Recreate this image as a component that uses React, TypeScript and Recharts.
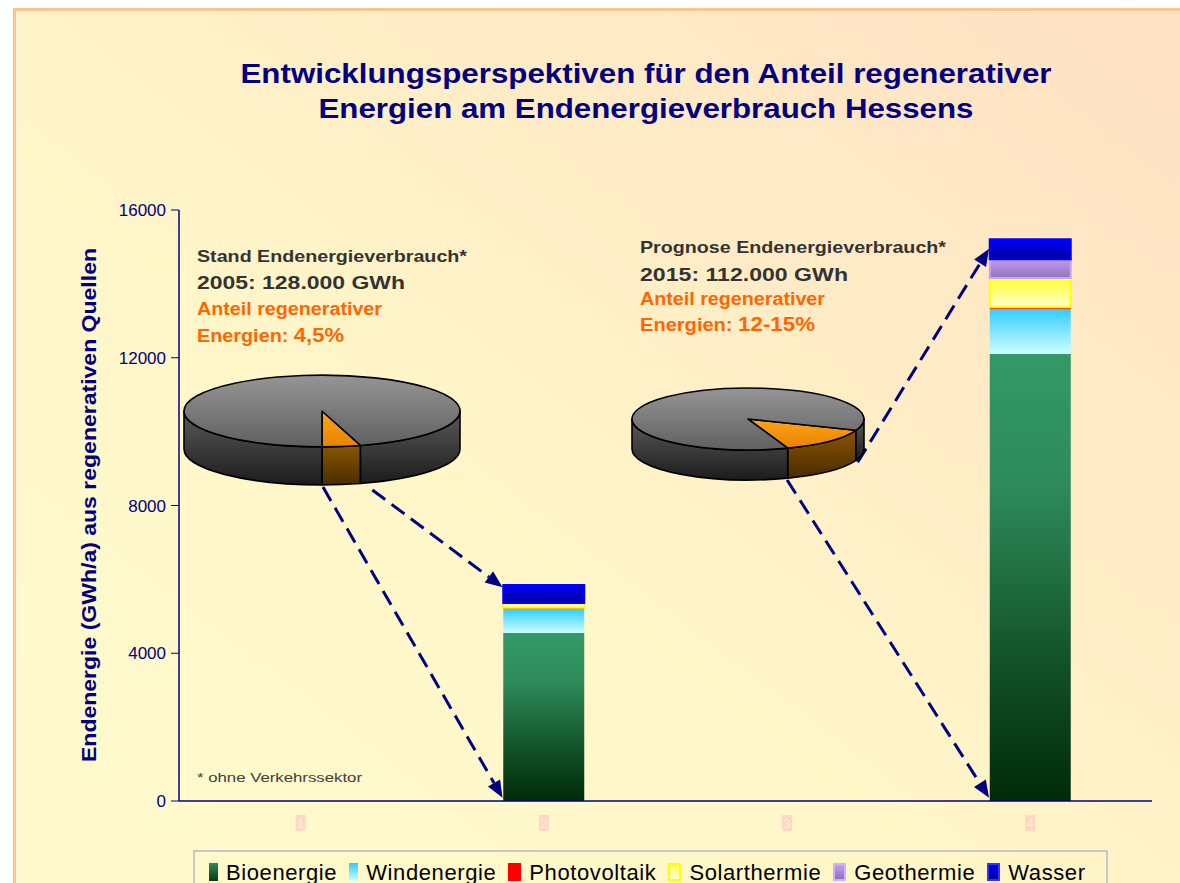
import React from 'react';
import { ComposedChart, Bar, XAxis, YAxis, ReferenceLine, Legend, PieChart, Pie } from 'recharts';

const FONT = '"Liberation Sans", Arial, Helvetica, sans-serif';
const NAVY = '#000080';

// x categories (the original chart shows them faintly as 1..4)
const categories = ['1', '2', '3', '4'];
// centre of each category on a 0..4 scale (used by the hidden numeric axis)
const catPos = [0.5, 1.5, 2.5, 3.5];

// GWh/a per source, bars only at 2 (2005) and 4 (2015)
const bioenergie = [null, 4550, null, 12100];
const windenergie = [null, 650, null, 1220];
const photovoltaik = [null, 30, null, 50];
const solarthermie = [null, 130, null, 790];
const geothermie = [null, 0, null, 510];
const wasser = [null, 490, null, 540];

const yTicks = [0, 4000, 8000, 12000, 16000];

// share of renewables in final energy (pies)
const pieLabels = ['regenerativ', 'sonstige'];
const share2005 = [4.5, 95.5];
const share2015 = [13.5, 86.5];

// dashed arrows from the pies to the bars, in (category units 0..4, GWh)
const arrows = [
  { from: [0.592, 8500], to: [1.33, 90] },
  { from: [0.795, 8420], to: [1.33, 5790] },
  { from: [2.5, 8690], to: [3.33, 90] },
  { from: [2.79, 9170], to: [3.33, 14950] },
];

const series = [
  { key: 'bio', name: 'Bioenergie', values: bioenergie, fill: 'url(#gBio)', stroke: 'none', sw: 9, legend: 'linear-gradient(#2f8a5c, #0b3a1a)', border: 'none' },
  { key: 'wind', name: 'Windenergie', values: windenergie, fill: 'url(#gWind)', stroke: 'none', sw: 9, legend: 'linear-gradient(#33ccff, #ccffff)', border: 'none' },
  { key: 'pv', name: 'Photovoltaik', values: photovoltaik, fill: '#FF0000', stroke: 'none', sw: 13, legend: '#FF0000', border: 'none' },
  { key: 'solar', name: 'Solarthermie', values: solarthermie, fill: 'url(#gSolar)', stroke: '#FFFF00', sw: 13, legend: 'linear-gradient(#ffff66, #ffffcc)', border: '2px solid #FFFF00' },
  { key: 'geo', name: 'Geothermie', values: geothermie, fill: 'url(#gGeo)', stroke: '#C9A6F5', sw: 13, legend: 'linear-gradient(#c4a0f0, #9070b8)', border: '2px solid #CFB0FF' },
  { key: 'wasser', name: 'Wasser', values: wasser, fill: 'url(#gWasser)', stroke: '#0000FF', sw: 13, legend: 'linear-gradient(#0000ff, #000099)', border: '2px solid #3333ff' },
];

const data = categories.map((c, i) => {
  const row: any = { cat: c, pos: catPos[i] };
  series.forEach(s => { row[s.key] = s.values[i]; });
  return row;
});

const RAD = Math.PI / 180;

function slice3D(tilt: number, depth: number, id: string) {
  const tops = [['#FFA31A', '#E68400'], ['#959595', '#606060']];
  const sides = [['#8a5600', '#4a2c00'], ['#5a5a5a', '#1c1c1c']];
  return (p: any) => {
    const { cx, cy, outerRadius, startAngle, endAngle, index } = p;
    const rx = outerRadius;
    const ry = outerRadius * tilt;
    const a1 = Math.min(startAngle, endAngle);
    const a2 = Math.max(startAngle, endAngle);
    const pt = (a: number, dy = 0) => `${cx + rx * Math.cos(a * RAD)},${cy - ry * Math.sin(a * RAD) + dy}`;
    const sidePaths: string[] = [];
    for (let k = -1; k <= 2; k++) {
      const b1 = Math.max(a1, -180 + 360 * k);
      const b2 = Math.min(a2, 360 * k);
      if (b2 > b1) {
        sidePaths.push(`M${pt(b1)} A${rx},${ry} 0 0 0 ${pt(b2)} L${pt(b2, depth)} A${rx},${ry} 0 0 1 ${pt(b1, depth)} Z`);
      }
    }
    const large = a2 - a1 > 180 ? 1 : 0;
    const top = `M${cx},${cy} L${pt(a1)} A${rx},${ry} 0 ${large} 0 ${pt(a2)} Z`;
    const t = tops[index];
    const s = sides[index];
    return (
      <g key={`${id}-${index}`}>
        <defs>
          <linearGradient id={`${id}t${index}`} x1="0" y1="0" x2="0" y2="1">
            <stop offset="0" stopColor={t[0]} />
            <stop offset="1" stopColor={t[1]} />
          </linearGradient>
          <linearGradient id={`${id}s${index}`} x1="0" y1="0" x2="0" y2="1">
            <stop offset="0" stopColor={s[0]} />
            <stop offset="1" stopColor={s[1]} />
          </linearGradient>
        </defs>
        {sidePaths.map((d, j) => (
          <path key={j} d={d} fill={`url(#${id}s${index})`} stroke="#000" strokeWidth={1.6} strokeLinejoin="round" />
        ))}
        <path d={top} fill={`url(#${id}t${index})`} stroke="#000" strokeWidth={1.6} strokeLinejoin="round" />
      </g>
    );
  };
}

const Arrow = (p: any) => {
  const { x1, y1, x2, y2 } = p;
  const dx = x2 - x1;
  const dy = y2 - y1;
  const len = Math.sqrt(dx * dx + dy * dy);
  const ux = dx / len;
  const uy = dy / len;
  const hl = 17;
  const hw = 7;
  const bx = x2 - ux * hl;
  const by = y2 - uy * hl;
  return (
    <g>
      <line x1={x1} y1={y1} x2={bx} y2={by} stroke={NAVY} strokeWidth={3} strokeDasharray="16 8" />
      <polygon points={`${x2},${y2} ${bx - uy * hw},${by + ux * hw} ${bx + uy * hw},${by - ux * hw}`} fill={NAVY} />
    </g>
  );
};

const XTick = (p: any) => {
  const { x, y, payload } = p;
  return (
    <g>
      <rect x={x - 5} y={y + 14} width={10} height={16} fill="#FFD8C4" />
      <text x={x} y={y + 27} textAnchor="middle" fontSize={12} fontFamily={FONT} fill="#FFF0DC">{payload.value}</text>
    </g>
  );
};

const LegendBox = () => (
  <div style={{
    border: '2px solid #C8C8C8', height: 60, boxSizing: 'border-box', display: 'flex', alignItems: 'flex-start',
    paddingLeft: 14, paddingTop: 8, fontFamily: FONT, fontSize: 22, lineHeight: '25px', color: '#000', whiteSpace: 'nowrap',
    letterSpacing: 0.6,
  }}>
    {series.map(s => (
      <div key={s.key} style={{ display: 'flex', alignItems: 'flex-start', marginRight: 12 }}>
        <span style={{ display: 'inline-block', width: s.sw, height: 18, marginTop: 3, marginRight: 8, background: s.legend, border: s.border, boxSizing: 'border-box' }} />
        <span>{s.name}</span>
      </div>
    ))}
  </div>
);

const pie2005 = share2005.map((v, i) => ({ name: pieLabels[i], value: v }));
const pie2015 = share2015.map((v, i) => ({ name: pieLabels[i], value: v }));

const grey = '#333333';
const orange = '#FF6600';
const LA = 'spacingAndGlyphs';

export default function App() {
  return (
    <div style={{ position: 'absolute', left: 0, top: 0, width: 1180, height: 883, overflow: 'hidden', background: '#fff' }}>
      <div style={{
        position: 'absolute', left: 13, top: 8, width: 1180, height: 900,
        borderTop: '3px solid #FFC48C', borderLeft: '3px solid #FFC48C', boxSizing: 'border-box',
        background: 'linear-gradient(to top right, #FFFACC 0%, #FFF7C9 40%, #FFEBC6 70%, #FFE0C4 100%)',
        boxShadow: 'inset 1px 1px 0 #FFF6E6',
      }} />

      <div style={{ position: 'absolute', left: 0, top: 0 }}>
        <ComposedChart width={1180} height={883} data={data} margin={{ top: 210, right: 28, bottom: 52, left: 99 }}>
          <defs>
            <linearGradient id="gBio" x1="0" y1="0" x2="0" y2="1">
              <stop offset="0" stopColor="#339966" />
              <stop offset="0.3" stopColor="#2e8a5b" />
              <stop offset="0.7" stopColor="#125028" />
              <stop offset="1" stopColor="#002a08" />
            </linearGradient>
            <linearGradient id="gWind" x1="0" y1="0" x2="0" y2="1">
              <stop offset="0" stopColor="#33CCFF" />
              <stop offset="1" stopColor="#CCFFFF" />
            </linearGradient>
            <linearGradient id="gSolar" x1="0" y1="0" x2="0" y2="1">
              <stop offset="0" stopColor="#FFFF33" />
              <stop offset="1" stopColor="#FFFFCC" />
            </linearGradient>
            <linearGradient id="gGeo" x1="0" y1="0" x2="0" y2="1">
              <stop offset="0" stopColor="#C09CEC" />
              <stop offset="1" stopColor="#9474BC" />
            </linearGradient>
            <linearGradient id="gWasser" x1="0" y1="0" x2="0" y2="1">
              <stop offset="0" stopColor="#0000FF" />
              <stop offset="1" stopColor="#00009A" />
            </linearGradient>
          </defs>
          <XAxis dataKey="cat" height={30} axisLine={{ stroke: NAVY, strokeWidth: 1.5 }} tickLine={false} tickSize={0} tickMargin={0} tick={<XTick />} interval={0} />
          <XAxis xAxisId="n" dataKey="pos" type="number" domain={[0, 4]} allowDataOverflow hide />
          <YAxis
            width={80} domain={[0, 16000]} ticks={yTicks} interval={0}
            axisLine={{ stroke: NAVY, strokeWidth: 1.5 }} tickLine={{ stroke: NAVY }} tickSize={8} tickMargin={5}
            tick={{ fill: NAVY, fontSize: 17, fontFamily: FONT }}
          />
          {series.map(s => (
            <Bar key={s.key} dataKey={s.key} name={s.name} stackId="a" barSize={81} fill={s.fill}
              stroke={s.stroke} strokeWidth={s.stroke === 'none' ? 0 : 2} isAnimationActive={false} />
          ))}
          {arrows.map((a, i) => (
            <ReferenceLine key={i} xAxisId="n" ifOverflow="visible"
              segment={[{ x: a.from[0], y: a.from[1] }, { x: a.to[0], y: a.to[1] }]} shape={<Arrow />} />
          ))}
          <Legend layout="horizontal" verticalAlign="middle" align="center" content={<LegendBox />}
            wrapperStyle={{ position: 'absolute', left: 193, top: 850, width: 915 }} />
        </ComposedChart>
      </div>

      <div style={{ position: 'absolute', left: 0, top: 0, pointerEvents: 'none' }}>
        <PieChart width={1180} height={883} margin={{ top: 0, right: 0, bottom: 0, left: 0 }}>
          <Pie data={pie2005} dataKey="value" cx={322} cy={411} outerRadius={138} startAngle={-90} endAngle={270}
            fill="none" stroke="none" labelLine={false} label={slice3D(0.26, 38, 'p5')} isAnimationActive={false} />
          <Pie data={pie2015} dataKey="value" cx={748} cy={419} outerRadius={116} startAngle={-70} endAngle={290}
            fill="none" stroke="none" labelLine={false} label={slice3D(0.267, 30, 'p15')} isAnimationActive={false} />
        </PieChart>
      </div>

      <svg width={1180} height={883} style={{ position: 'absolute', left: 0, top: 0, pointerEvents: 'none' }} fontFamily={FONT}>
        <text x={646} y={83} textAnchor="middle" fontSize={27} fontWeight="bold" fill={NAVY} textLength={811} lengthAdjust={LA}>Entwicklungsperspektiven für den Anteil regenerativer</text>
        <text x={646} y={118} textAnchor="middle" fontSize={27} fontWeight="bold" fill={NAVY} textLength={655} lengthAdjust={LA}>Energien am Endenergieverbrauch Hessens</text>

        <text transform="rotate(-90 96 505)" x={96} y={505} textAnchor="middle" fontSize={20} fontWeight="bold" fill={NAVY}
          textLength={514} lengthAdjust={LA}>Endenergie (GWh/a) aus regenerativen Quellen</text>

        <g fontWeight="bold">
          <text x={197} y={262} fontSize={17} fill={grey} textLength={270} lengthAdjust={LA}>Stand Endenergieverbrauch*</text>
          <text x={197} y={289} fontSize={19} fill={grey} textLength={208} lengthAdjust={LA}>2005: 128.000 GWh</text>
          <text x={197} y={315} fontSize={18} fill={orange} textLength={185} lengthAdjust={LA}>Anteil regenerativer</text>
          <text x={197} y={342} fill={orange} textLength={147} lengthAdjust={LA}>
            <tspan fontSize={18}>Energien: </tspan><tspan fontSize={20}>4,5%</tspan>
          </text>

          <text x={640} y={253} fontSize={17} fill={grey} textLength={306} lengthAdjust={LA}>Prognose Endenergieverbrauch*</text>
          <text x={640} y={281} fontSize={19} fill={grey} textLength={208} lengthAdjust={LA}>2015: 112.000 GWh</text>
          <text x={640} y={305} fontSize={18} fill={orange} textLength={185} lengthAdjust={LA}>Anteil regenerativer</text>
          <text x={640} y={331} fill={orange} textLength={175} lengthAdjust={LA}>
            <tspan fontSize={18}>Energien: </tspan><tspan fontSize={20}>12-15%</tspan>
          </text>
        </g>

        <text x={197} y={782} fontSize={13} fill="#404040" textLength={165} lengthAdjust={LA}>* ohne  Verkehrssektor</text>
      </svg>
    </div>
  );
}
